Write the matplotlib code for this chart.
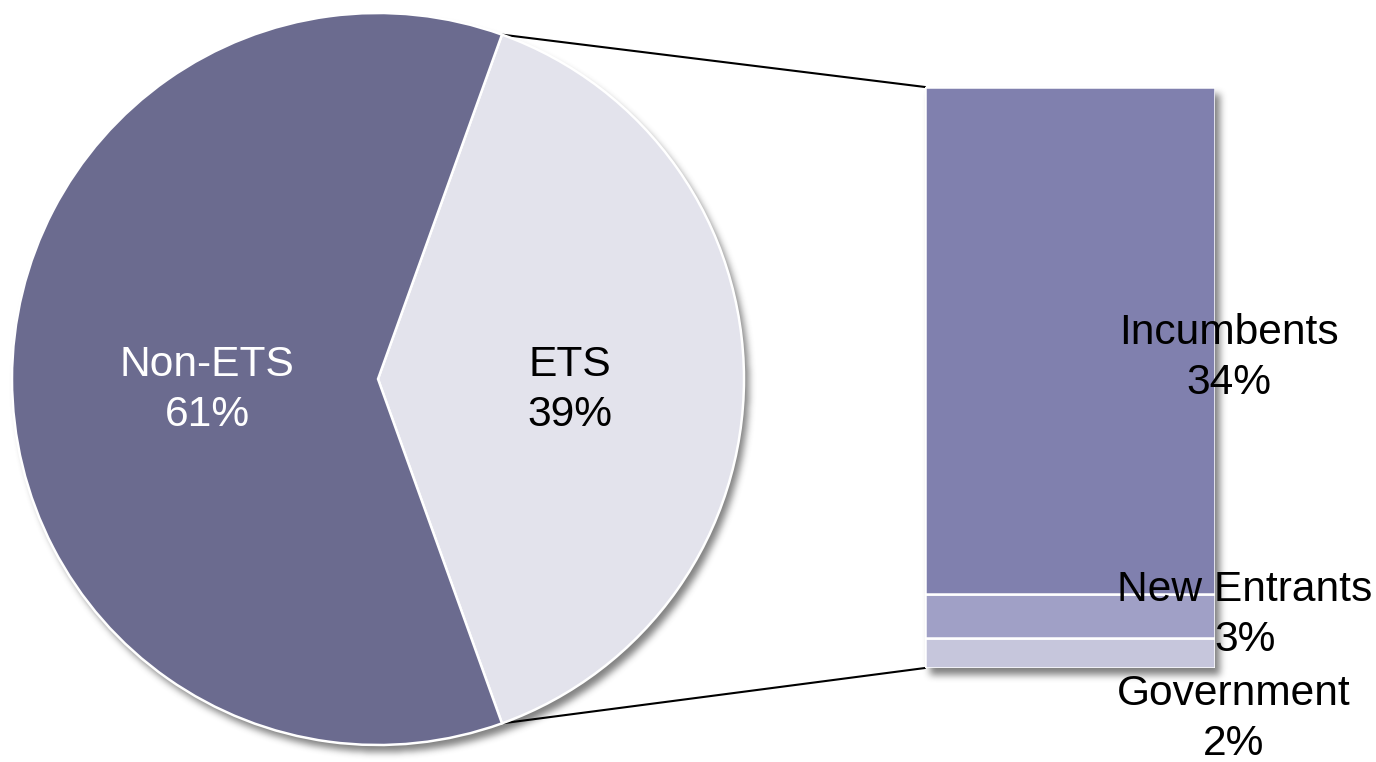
import numpy as np
import matplotlib
matplotlib.use("Agg")
import matplotlib.pyplot as plt
from matplotlib.patches import ConnectionPatch

plt.rcParams["font.family"] = ["Liberation Sans", "DejaVu Sans"]

# Data
pie_labels = ["ETS", "Non-ETS"]
pie_values = [39, 61]
pie_colors = ["#E3E3EC", "#6B6B8F"]
pie_text_colors = ["black", "white"]

bar_labels = ["Government", "New Entrants", "Incumbents"]
bar_values = [2, 3, 34]
bar_colors = ["#C6C6DC", "#A0A0C6", "#8080AE"]

# Layout (pixels)
W, H, DPI = 1376, 762, 100
PIE_CX, PIE_CY, PIE_R = 378, 379, 366
BAR_L, BAR_R, BAR_T, BAR_B = 925, 1215, 87, 668
FS = 30.6
LS = 1.3

fig = plt.figure(figsize=(W / DPI, H / DPI), dpi=DPI)
fig.patch.set_facecolor("white")

# Soft drop shadow behind pie and bar
yy, xx = np.mgrid[0:H, 0:W] + 0.5
dx, dy = 5, 7
mask = ((xx - PIE_CX - dx) ** 2 + (yy - PIE_CY - dy) ** 2 <= PIE_R ** 2).astype(float)
mask[(xx >= BAR_L + dx) & (xx <= BAR_R + dx) & (yy >= BAR_T + dy) & (yy <= BAR_B + dy)] = 1.0


def box_blur(a, k, axis):
    pad = [(0, 0), (0, 0)]
    pad[axis] = (k + 1, k)
    p = np.pad(a, pad, mode="edge")
    c = np.cumsum(p, axis=axis)
    n = a.shape[axis]
    if axis == 0:
        return (c[2 * k + 1:2 * k + 1 + n] - c[0:n]) / (2 * k + 1)
    return (c[:, 2 * k + 1:2 * k + 1 + n] - c[:, 0:n]) / (2 * k + 1)


for _ in range(3):
    mask = box_blur(mask, 3, 0)
    mask = box_blur(mask, 3, 1)

shadow = np.zeros((H, W, 4))
shadow[..., :3] = 0.3
shadow[..., 3] = mask * 0.7
ax_bg = fig.add_axes([0, 0, 1, 1], zorder=0)
ax_bg.imshow(shadow, extent=(0, W, H, 0), interpolation="bilinear")
ax_bg.set_xlim(0, W)
ax_bg.set_ylim(H, 0)
ax_bg.axis("off")

# Pie
ax_pie = fig.add_axes([(PIE_CX - PIE_R) / W, (H - PIE_CY - PIE_R) / H,
                       2 * PIE_R / W, 2 * PIE_R / H], zorder=1)
ax_pie.patch.set_alpha(0)
half = 360 * pie_values[0] / sum(pie_values) / 2
wedges, _ = ax_pie.pie(pie_values, colors=pie_colors, startangle=-half,
                       counterclock=True, radius=1,
                       wedgeprops=dict(edgecolor="white", linewidth=1.8))
ax_pie.set_xlim(-1, 1)
ax_pie.set_ylim(-1, 1)
ax_pie.set_aspect("auto")
ax_pie.axis("off")

pie_text_pos = [(0.525, -0.03), (-0.467, -0.03)]
total = sum(pie_values)
for lab, val, col, (tx, ty) in zip(pie_labels, pie_values, pie_text_colors, pie_text_pos):
    ax_pie.text(tx, ty, f"{lab}\n{round(100 * val / total)}%", color=col,
                fontsize=FS, ha="center", va="center", linespacing=LS)

# Stacked bar for the ETS breakdown
ax_bar = fig.add_axes([BAR_L / W, (H - BAR_B) / H, (BAR_R - BAR_L) / W,
                       (BAR_B - BAR_T) / H], zorder=1)
ax_bar.patch.set_alpha(0)
bottom = 0
for lab, val, col in zip(bar_labels, bar_values, bar_colors):
    ax_bar.bar(0, val, bottom=bottom, width=1.0, color=col,
               edgecolor="white", linewidth=1.8)
    bottom += val
ax_bar.set_xlim(-0.5, 0.5)
ax_bar.set_ylim(0, sum(bar_values))
ax_bar.axis("off")

# Labels for the bar segments (pixel positions of the text blocks)
bar_text_pos = {"Incumbents": (1119, 358), "New Entrants": (1117, 615), "Government": (1117, 719)}
for lab, val in zip(bar_labels, bar_values):
    px, py = bar_text_pos[lab]
    fig.text(px / W, 1 - py / H, f"{lab}\n{val}%", fontsize=FS, ha="left",
             va="center", multialignment="center", linespacing=LS,
             color="black", zorder=5)

# Connector lines from the ETS wedge to the bar
ang = np.deg2rad(half)
for sign, ybar in [(1, sum(bar_values)), (-1, 0)]:
    con = ConnectionPatch(xyA=(np.cos(ang), sign * np.sin(ang)), coordsA=ax_pie.transData,
                          xyB=(-0.5, ybar), coordsB=ax_bar.transData,
                          color="black", linewidth=1.5, zorder=0.5)
    fig.add_artist(con)

fig.savefig("out.png", dpi=DPI, facecolor="white")
